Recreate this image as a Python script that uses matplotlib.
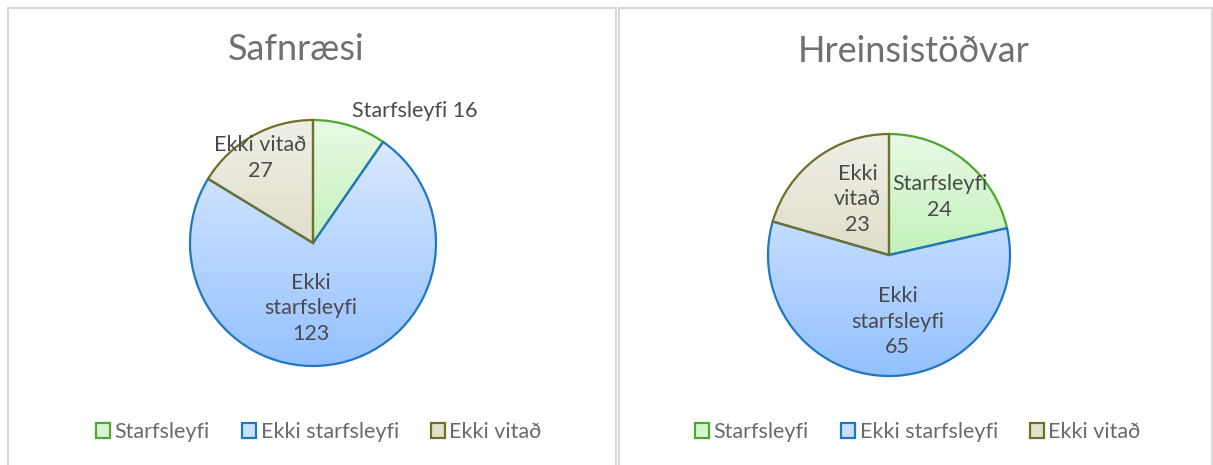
import numpy as np
import matplotlib
matplotlib.use("Agg")
import matplotlib.pyplot as plt
from matplotlib.patches import Rectangle, Patch
from matplotlib.colors import to_rgb

plt.rcParams['font.family'] = ['Lato', 'DejaVu Sans']

# ---- data ----
categories = ["Starfsleyfi", "Ekki starfsleyfi", "Ekki vitað"]
titles = ["Safnræsi", "Hreinsistöðvar"]
safnraesi = [16, 123, 27]
hreinsistodvar = [24, 65, 23]
label_texts_left = ["Starfsleyfi 16", "Ekki vitað\n27", "Ekki\nstarfsleyfi\n123"]
label_texts_right = ["Starfsleyfi\n24", "Ekki\nvitað\n23", "Ekki\nstarfsleyfi\n65"]

# ---- styles ----
edge_colors = ["#4EA72E", "#1F77C4", "#6F702C"]
grad_top = ["#E8FAE4", "#E0EDFF", "#F0EFE6"]
grad_bot = ["#9FE894", "#94C1FF", "#CFCDAE"]
legend_face = ["#D6F5D0", "#C9E0FF", "#E2E1CC"]
text_col = "#595959"

W, H = 1213, 465
fig = plt.figure(figsize=(W/100, H/100), dpi=100)

def make_panel(x0, x1, cx, cy, R, values, ltexts, lpos, title, title_xy, leg_cx):
    ax = fig.add_axes([x0/W, 0, (x1-x0)/W, 1])
    wedges, _ = ax.pie(values, startangle=90, counterclock=False, radius=1,
                       wedgeprops=dict(linewidth=1.6, facecolor='none'),
                       frame=True)
    ax.set_xlim((x0-cx)/R, (x1-cx)/R)
    ax.set_ylim((cy-H)/R, cy/R)
    ax.set_aspect('auto')
    ax.axis('off')
    for i, w in enumerate(wedges):
        w.set_edgecolor(edge_colors[i])
        t = np.array(to_rgb(grad_top[i]))
        b = np.array(to_rgb(grad_bot[i]))
        f = np.linspace(0, 1, 256)[:, None]
        img = (t[None, :]*(1-f) + b[None, :]*f)[:, None, :]
        im = ax.imshow(img, extent=(-1, 1, -1, 1), origin='upper',
                       aspect='auto', zorder=0.5, interpolation='bilinear')
        im.set_clip_path(w)
        w.set_zorder(1)
    for i, (txt, (px, py)) in enumerate(zip(ltexts, lpos)):
        ax.text(px, py, txt, ha='center', va='center', fontsize=15.5,
                color="#4a4a4a", linespacing=1.35, zorder=3)
    ax.text((title_xy[0]-x0)/(x1-x0), 1-title_xy[1]/H, title, transform=ax.transAxes,
            ha='center', va='center', fontsize=26, color="#707070", fontweight='normal')
    handles = [Patch(facecolor=legend_face[i], edgecolor=edge_colors[i], linewidth=1.6)
               for i in range(3)]
    ax.legend(handles, categories, loc='center', ncol=3,
              bbox_to_anchor=((leg_cx-x0)/(x1-x0), 1-432/H),
              frameon=False, fontsize=15.5, handlelength=0.65, handleheight=0.65,
              handletextpad=0.2, columnspacing=1.5, labelcolor="#6a6a6a")
    return ax

make_panel(0, 616, 313, 243, 123, safnraesi, label_texts_left,
           [(0.83, 1.07), (-0.43, 0.69), (-0.02, -0.53)],
           titles[0], (296, 50), 319)
make_panel(616, 1213, 889, 255, 121, hreinsistodvar, label_texts_right,
           [(0.42, 0.48), (-0.26, 0.46), (0.07, -0.55)],
           titles[1], (914, 52), 918)

# panel borders
for (a, b) in [(8, 616), (619, 1212)]:
    fig.patches.append(Rectangle((a/W, -0.1), (b-a)/W, 1.1-8/H, transform=fig.transFigure,
                                 fill=False, edgecolor="#D9D9D9", linewidth=1.5))

fig.savefig("out.png", dpi=100, facecolor='white')
